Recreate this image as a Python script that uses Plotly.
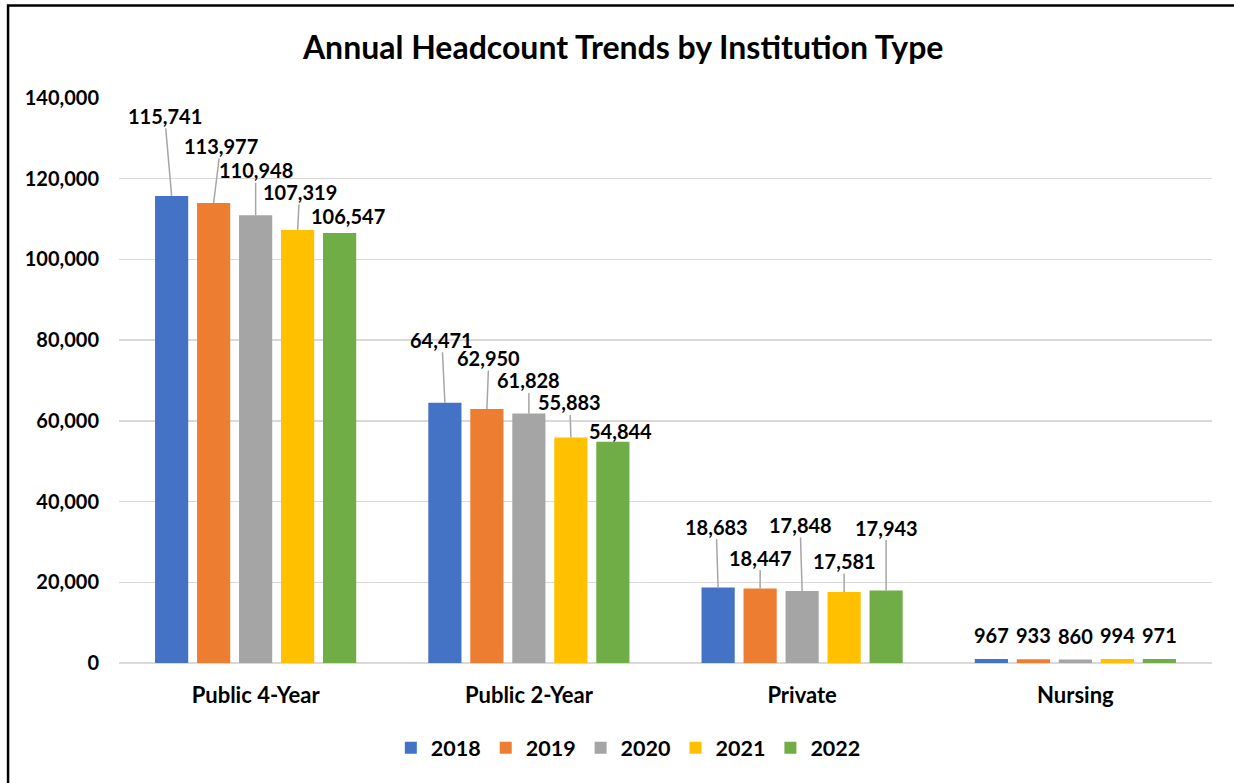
import plotly.graph_objects as go

# ---------------- data ----------------
categories = ["Public 4-Year", "Public 2-Year", "Private", "Nursing"]
years = ["2018", "2019", "2020", "2021", "2022"]
values_2018 = [115741, 64471, 18683, 967]
values_2019 = [113977, 62950, 18447, 933]
values_2020 = [110948, 61828, 17848, 860]
values_2021 = [107319, 55883, 17581, 994]
values_2022 = [106547, 54844, 17943, 971]
y_tick_values = [0, 20000, 40000, 60000, 80000, 100000, 120000, 140000]

series_values = [values_2018, values_2019, values_2020, values_2021, values_2022]

# ---------------- style ----------------
colors = ["#4472C4", "#ED7D31", "#A5A5A5", "#FFC000", "#70AD47"]
FONT = "Lato"
BARGAP = 0.2315
BARGROUPGAP = 0.21

# label offsets in pixels (dx, dy, leader line?) per category, per series
label_offsets = [
    [(-7, -80, True), (7, -57, True), (0, -45, True), (2, -38, True), (8, -17, False)],
    [(-3, -63, True), (2, -51, True), (0, -33, True), (-1, -35, True), (8, -11, False)],
    [(-2, -61, True), (0, -31, True), (-2, -66, True), (0, -31, True), (0, -63, True)],
    [(0, -24, False), (0, -24, False), (0, -24, False), (0, -24, False), (0, -24, False)],
]

x_pos = list(range(len(categories)))

fig = go.Figure()
for j, (yr, vals) in enumerate(zip(years, series_values)):
    fig.add_trace(go.Bar(
        x=x_pos, y=vals, name=yr,
        marker=dict(color=colors[j], line=dict(width=0)),
        hoverinfo="skip",
    ))

slot = (1 - BARGAP) / len(years)
annotations = []
for j, vals in enumerate(series_values):
    for i, v in enumerate(vals):
        dx, dy, leader = label_offsets[i][j]
        annotations.append(dict(
            x=i + (j - (len(years) - 1) / 2) * slot, y=v,
            xref="x", yref="y",
            text=f"<b>{v:,}</b>",
            showarrow=True,
            arrowhead=0, arrowwidth=1.5,
            arrowcolor="#A6A6A6" if leader else "rgba(0,0,0,0)",
            ax=dx, ay=dy, axref="pixel", ayref="pixel",
            standoff=0, borderpad=0,
            font=dict(family=FONT, size=20, color="#000000"),
        ))

fig.update_layout(
    width=1234, height=783,
    margin=dict(l=119, r=22, t=98, b=120),
    paper_bgcolor="#FFFFFF", plot_bgcolor="#FFFFFF",
    barmode="group", bargap=BARGAP, bargroupgap=BARGROUPGAP,
    title=dict(
        text="<b>Annual Headcount Trends by Institution Type</b>",
        x=0.505, y=1 - 48 / 783, xanchor="center", yanchor="middle",
        font=dict(family=FONT, size=32, color="#000000"),
    ),
    font=dict(family=FONT, color="#000000"),
    showlegend=True,
    legend=dict(
        orientation="h", x=0.466, y=-0.150, xanchor="center", yanchor="middle",
        font=dict(family=FONT, size=21.5, color="#000000", weight="bold"),
        itemwidth=30, traceorder="normal",
    ),
    annotations=annotations,
    shapes=[dict(
        type="rect", xref="paper", yref="paper",
        x0=-0.1015, x1=1.04, y0=-0.25, y1=1.1635,
        line=dict(color="#000000", width=2.5), fillcolor="rgba(0,0,0,0)",
        layer="above",
    )],
)

fig.update_xaxes(
    tickvals=x_pos, ticktext=categories, range=[-0.5, len(categories) - 0.5],
    showgrid=False, zeroline=False, showline=False, ticks="",
    tickfont=dict(family=FONT, size=22, color="#000000", weight="bold"),
    ticklabelstandoff=17,
)
fig.update_yaxes(
    range=[0, 140000], tickvals=y_tick_values, tickformat=",",
    showgrid=True, gridcolor="#D9D9D9", gridwidth=1.5,
    zeroline=True, zerolinecolor="#D9D9D9", zerolinewidth=1.5,
    showline=False, ticks="",
    tickfont=dict(family=FONT, size=20, color="#000000", weight="bold"),
    ticklabelstandoff=19,
)

fig.write_html(
    "out.html",
    config={"displayModeBar": False, "staticPlot": True},
    post_script="document.body.style.margin='0';document.body.style.overflow='hidden';",
)
